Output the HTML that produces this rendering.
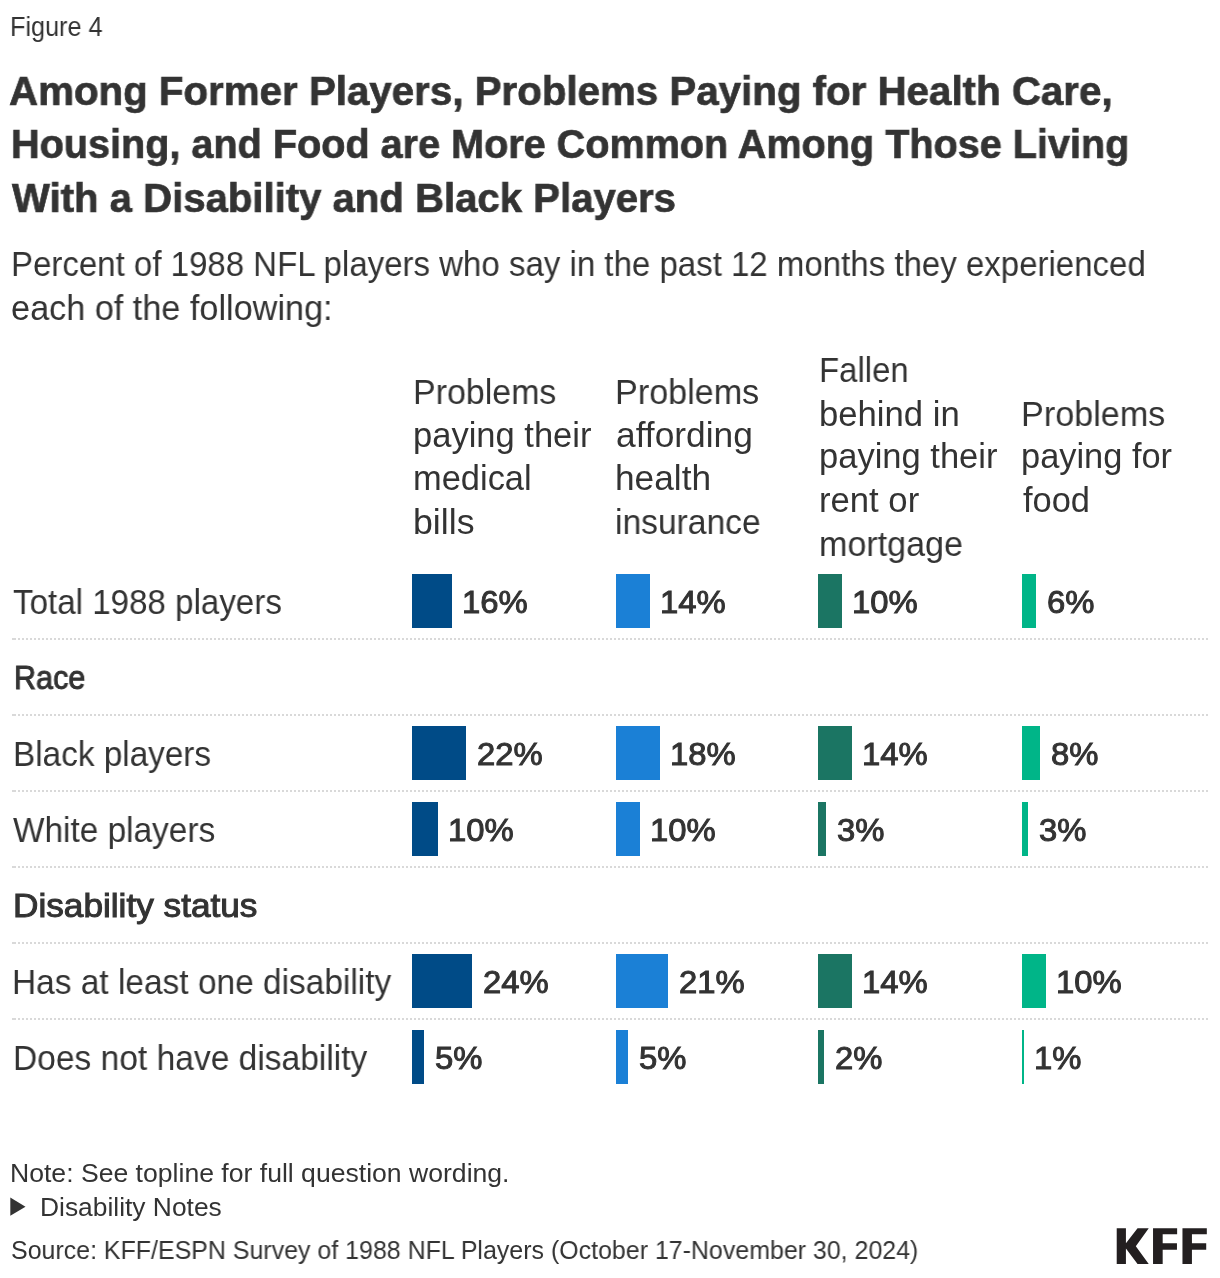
<!DOCTYPE html>
<html><head><meta charset="utf-8"><title>Figure 4</title>
<style>
html,body{margin:0;padding:0;background:#fff;}
body{width:1220px;height:1278px;position:relative;overflow:hidden;font-family:"Liberation Sans",sans-serif;color:#333333;}
.t{position:absolute;white-space:nowrap;line-height:1;transform-origin:0 0;will-change:transform;}
.bar{position:absolute;height:54px;}
.dl{position:absolute;left:12px;width:1196px;height:2px;background:linear-gradient(#d9d9d9,#d9d9d9) 0 0/2px 2px no-repeat, repeating-linear-gradient(to right,transparent 0 2px,#d9d9d9 2px 4px);}
.logo{position:absolute;left:1110px;top:1220px;}
.tri{position:absolute;left:9.8px;top:1196px;}
</style></head><body>
<div class="t" style="left:9.65px;top:12.89px;font-size:27.3px;transform:scaleX(0.9239)">Figure 4</div>
<div class="t" style="left:9.33px;top:71.35px;font-size:41.4px;transform:scaleX(0.9732);font-weight:bold;-webkit-text-stroke:0.7px #333333">Among Former Players, Problems Paying for Health Care,</div>
<div class="t" style="left:10.69px;top:123.65px;font-size:41.4px;transform:scaleX(0.9568);font-weight:bold;-webkit-text-stroke:0.7px #333333">Housing, and Food are More Common Among Those Living</div>
<div class="t" style="left:11.80px;top:177.55px;font-size:41.4px;transform:scaleX(0.9691);font-weight:bold;-webkit-text-stroke:0.7px #333333">With a Disability and Black Players</div>
<div class="t" style="left:11.08px;top:246.77px;font-size:34.4px;transform:scaleX(0.9600)">Percent of 1988 NFL players who say in the past 12 months they experienced</div>
<div class="t" style="left:10.50px;top:290.57px;font-size:34.4px;transform:scaleX(0.9952)">each of the following:</div>
<div class="t" style="left:412.83px;top:374.87px;font-size:34.4px;transform:scaleX(0.9869)">Problems</div>
<div class="t" style="left:412.79px;top:418.37px;font-size:34.4px;transform:scaleX(1.0037)">paying their</div>
<div class="t" style="left:412.80px;top:460.87px;font-size:34.4px;transform:scaleX(1.0012)">medical</div>
<div class="t" style="left:412.72px;top:504.87px;font-size:34.4px;transform:scaleX(1.0384)">bills</div>
<div class="t" style="left:615.31px;top:374.87px;font-size:34.4px;transform:scaleX(0.9926)">Problems</div>
<div class="t" style="left:616.27px;top:418.37px;font-size:34.4px;transform:scaleX(1.0270)">affording</div>
<div class="t" style="left:615.25px;top:460.87px;font-size:34.4px;transform:scaleX(1.0248)">health</div>
<div class="t" style="left:615.35px;top:504.87px;font-size:34.4px;transform:scaleX(0.9768)">insurance</div>
<div class="t" style="left:818.79px;top:352.87px;font-size:34.4px;transform:scaleX(0.9571)">Fallen</div>
<div class="t" style="left:818.68px;top:396.57px;font-size:34.4px;transform:scaleX(1.0076)">behind in</div>
<div class="t" style="left:818.69px;top:438.87px;font-size:34.4px;transform:scaleX(1.0037)">paying their</div>
<div class="t" style="left:818.68px;top:482.67px;font-size:34.4px;transform:scaleX(1.0078)">rent or</div>
<div class="t" style="left:818.72px;top:526.57px;font-size:34.4px;transform:scaleX(0.9904)">mortgage</div>
<div class="t" style="left:1021.01px;top:396.57px;font-size:34.4px;transform:scaleX(0.9933)">Problems</div>
<div class="t" style="left:1021.01px;top:438.87px;font-size:34.4px;transform:scaleX(0.9968)">paying for</div>
<div class="t" style="left:1023.00px;top:482.57px;font-size:34.4px;transform:scaleX(1.0014)">food</div>
<div class="t" style="left:13.10px;top:584.87px;font-size:34.4px;transform:scaleX(0.9632)">Total 1988 players</div>
<div class="t" style="left:13.63px;top:661.80px;font-size:32.6px;transform:scaleX(0.9365);-webkit-text-stroke:1.0px #333333">Race</div>
<div class="t" style="left:13.06px;top:736.87px;font-size:34.4px;transform:scaleX(0.9686)">Black players</div>
<div class="t" style="left:13.10px;top:812.87px;font-size:34.4px;transform:scaleX(0.9704)">White players</div>
<div class="t" style="left:12.74px;top:889.80px;font-size:32.6px;transform:scaleX(1.0802);-webkit-text-stroke:1.0px #333333">Disability status</div>
<div class="t" style="left:12.45px;top:964.87px;font-size:34.4px;transform:scaleX(0.9725)">Has at least one disability</div>
<div class="t" style="left:12.85px;top:1040.87px;font-size:34.4px;transform:scaleX(0.9754)">Does not have disability</div>
<div class="t" style="left:9.77px;top:1161.13px;font-size:25.0px;transform:scaleX(1.0634)">Note: See topline for full question wording.</div>
<div class="t" style="left:39.89px;top:1195.13px;font-size:25.0px;transform:scaleX(1.0549)">Disability Notes</div>
<div class="t" style="left:11.00px;top:1238.33px;font-size:25.0px;transform:scaleX(0.9980)">Source: KFF/ESPN Survey of 1988 NFL Players (October 17-November 30, 2024)</div>
<div class="t" style="left:461.76px;top:586.44px;font-size:32.2px;transform:scaleX(1.0194);-webkit-text-stroke:1.0px #333333">16%</div>
<div class="t" style="left:659.76px;top:586.44px;font-size:32.2px;transform:scaleX(1.0194);-webkit-text-stroke:1.0px #333333">14%</div>
<div class="t" style="left:851.76px;top:586.44px;font-size:32.2px;transform:scaleX(1.0194);-webkit-text-stroke:1.0px #333333">10%</div>
<div class="t" style="left:1046.78px;top:586.44px;font-size:32.2px;transform:scaleX(1.0194);-webkit-text-stroke:1.0px #333333">6%</div>
<div class="t" style="left:476.78px;top:738.44px;font-size:32.2px;transform:scaleX(1.0194);-webkit-text-stroke:1.0px #333333">22%</div>
<div class="t" style="left:669.76px;top:738.44px;font-size:32.2px;transform:scaleX(1.0194);-webkit-text-stroke:1.0px #333333">18%</div>
<div class="t" style="left:861.76px;top:738.44px;font-size:32.2px;transform:scaleX(1.0194);-webkit-text-stroke:1.0px #333333">14%</div>
<div class="t" style="left:1050.78px;top:738.44px;font-size:32.2px;transform:scaleX(1.0194);-webkit-text-stroke:1.0px #333333">8%</div>
<div class="t" style="left:447.76px;top:814.44px;font-size:32.2px;transform:scaleX(1.0194);-webkit-text-stroke:1.0px #333333">10%</div>
<div class="t" style="left:649.76px;top:814.44px;font-size:32.2px;transform:scaleX(1.0194);-webkit-text-stroke:1.0px #333333">10%</div>
<div class="t" style="left:836.78px;top:814.44px;font-size:32.2px;transform:scaleX(1.0194);-webkit-text-stroke:1.0px #333333">3%</div>
<div class="t" style="left:1038.78px;top:814.44px;font-size:32.2px;transform:scaleX(1.0194);-webkit-text-stroke:1.0px #333333">3%</div>
<div class="t" style="left:482.78px;top:966.44px;font-size:32.2px;transform:scaleX(1.0194);-webkit-text-stroke:1.0px #333333">24%</div>
<div class="t" style="left:678.78px;top:966.44px;font-size:32.2px;transform:scaleX(1.0194);-webkit-text-stroke:1.0px #333333">21%</div>
<div class="t" style="left:861.76px;top:966.44px;font-size:32.2px;transform:scaleX(1.0194);-webkit-text-stroke:1.0px #333333">14%</div>
<div class="t" style="left:1055.76px;top:966.44px;font-size:32.2px;transform:scaleX(1.0194);-webkit-text-stroke:1.0px #333333">10%</div>
<div class="t" style="left:434.78px;top:1042.44px;font-size:32.2px;transform:scaleX(1.0194);-webkit-text-stroke:1.0px #333333">5%</div>
<div class="t" style="left:638.78px;top:1042.44px;font-size:32.2px;transform:scaleX(1.0194);-webkit-text-stroke:1.0px #333333">5%</div>
<div class="t" style="left:834.78px;top:1042.44px;font-size:32.2px;transform:scaleX(1.0194);-webkit-text-stroke:1.0px #333333">2%</div>
<div class="t" style="left:1033.76px;top:1042.44px;font-size:32.2px;transform:scaleX(1.0194);-webkit-text-stroke:1.0px #333333">1%</div>
<div class="bar" style="left:412px;top:574px;width:40px;background:#004b87"></div>
<div class="bar" style="left:616px;top:574px;width:34px;background:#1b80d6"></div>
<div class="bar" style="left:818px;top:574px;width:24px;background:#1b7563"></div>
<div class="bar" style="left:1022px;top:574px;width:14px;background:#00b588"></div>
<div class="bar" style="left:412px;top:726px;width:54px;background:#004b87"></div>
<div class="bar" style="left:616px;top:726px;width:44px;background:#1b80d6"></div>
<div class="bar" style="left:818px;top:726px;width:34px;background:#1b7563"></div>
<div class="bar" style="left:1022px;top:726px;width:18px;background:#00b588"></div>
<div class="bar" style="left:412px;top:802px;width:26px;background:#004b87"></div>
<div class="bar" style="left:616px;top:802px;width:24px;background:#1b80d6"></div>
<div class="bar" style="left:818px;top:802px;width:8px;background:#1b7563"></div>
<div class="bar" style="left:1022px;top:802px;width:6px;background:#00b588"></div>
<div class="bar" style="left:412px;top:954px;width:60px;background:#004b87"></div>
<div class="bar" style="left:616px;top:954px;width:52px;background:#1b80d6"></div>
<div class="bar" style="left:818px;top:954px;width:34px;background:#1b7563"></div>
<div class="bar" style="left:1022px;top:954px;width:24px;background:#00b588"></div>
<div class="bar" style="left:412px;top:1030px;width:12px;background:#004b87"></div>
<div class="bar" style="left:616px;top:1030px;width:12px;background:#1b80d6"></div>
<div class="bar" style="left:818px;top:1030px;width:6px;background:#1b7563"></div>
<div class="bar" style="left:1022px;top:1030px;width:2px;background:#00b588"></div>
<div class="dl" style="top:638px"></div>
<div class="dl" style="top:714px"></div>
<div class="dl" style="top:790px"></div>
<div class="dl" style="top:866px"></div>
<div class="dl" style="top:942px"></div>
<div class="dl" style="top:1018px"></div>
<svg class="tri" width="20" height="22" viewBox="0 0 20 22"><polygon points="0.3,1.6 15.5,10.7 0.3,19.8" fill="#333"/></svg>
<svg class="logo" width="105" height="50" viewBox="0 0 1220 581"><g fill="#231f20">
<polygon points="78,95 185,95 185,270 320,95 450,95 300,305 450,510 320,510 185,330 185,510 78,510"/>
<polygon points="500,95 780,95 780,165 612,165 612,270 778,270 778,345 612,345 612,510 500,510"/>
<polygon points="842,95 1125,95 1125,165 952,165 952,270 1118,270 1118,345 952,345 952,510 842,510"/>
</g></svg>
</body></html>
